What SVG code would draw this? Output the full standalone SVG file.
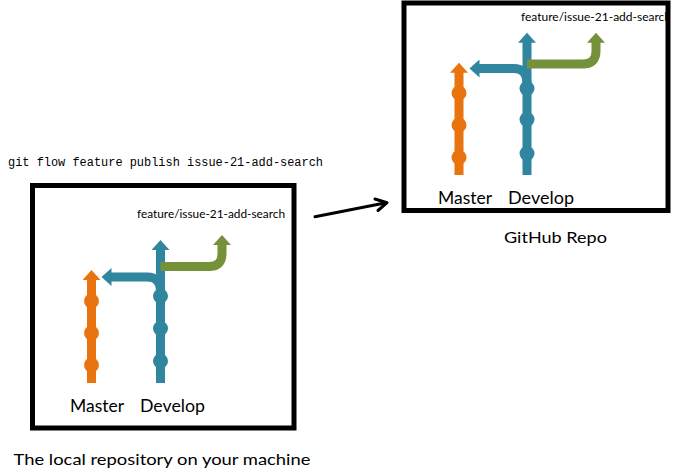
<svg xmlns="http://www.w3.org/2000/svg" width="680" height="474" viewBox="0 0 680 474">
<style>
.box{fill:none;stroke:#000;stroke-width:5}
.or{stroke:#E8730F;stroke-width:9;fill:none}
.bl{stroke:#2F869E;stroke-width:9;fill:none}
.gr{stroke:#75923B;stroke-width:9;fill:none}
.ord{fill:#E8730F}
.bld{fill:#2F869E}
.lbl{font-family:Lato,"Liberation Sans",sans-serif;font-size:17px;fill:#000}
.feat{font-family:Lato,"Liberation Sans",sans-serif;font-size:11px;fill:#000}
.cap{font-family:Lato,"Liberation Sans",sans-serif;font-size:16px;fill:#000}
.cmd{font-family:"Liberation Mono",monospace;font-size:12px;fill:#000}
</style>
<defs>
<marker id="hO" markerUnits="userSpaceOnUse" markerWidth="11" markerHeight="18" refX="1" refY="9" orient="auto" viewBox="0 0 11 18"><path d="M0,0 L10,9 L0,18 Z" fill="#E8730F"/></marker>
<marker id="hB" markerUnits="userSpaceOnUse" markerWidth="11" markerHeight="18" refX="1" refY="9" orient="auto" viewBox="0 0 11 18"><path d="M0,0 L10,9 L0,18 Z" fill="#2F869E"/></marker>
<marker id="hG" markerUnits="userSpaceOnUse" markerWidth="11" markerHeight="18" refX="1" refY="9" orient="auto" viewBox="0 0 11 18"><path d="M0,0 L10,9 L0,18 Z" fill="#75923B"/></marker>
<clipPath id="rclip"><rect x="404" y="3" width="264" height="207.5"/></clipPath>
</defs>
<rect width="680" height="474" fill="#fff"/>
<text class="cmd" x="8" y="165.5" textLength="315" lengthAdjust="spacingAndGlyphs">git flow feature publish issue-21-add-search</text>
<g id="local-repo">
<path class="or" d="M91.5,383 L91.5,279" marker-end="url(#hO)"/>
<path class="bl" d="M160.5,383 L160.5,249" marker-end="url(#hB)"/>
<path class="bl" d="M160.5,292 Q160.5,277 147,277 L110.5,277" marker-end="url(#hB)"/>
<path class="gr" d="M160.5,266.5 L209,266.5 Q222,266.5 222,253.5 L222,244" marker-end="url(#hG)"/>
<circle class="ord" cx="91.5" cy="301" r="7.5"/>
<circle class="ord" cx="91.5" cy="333" r="7.5"/>
<circle class="ord" cx="91.5" cy="365" r="7.5"/>
<circle class="bld" cx="160.5" cy="296" r="7.5"/>
<circle class="bld" cx="160.5" cy="328.5" r="7.5"/>
<circle class="bld" cx="160.5" cy="361" r="7.5"/>
<text class="feat" x="137" y="217.5" textLength="148" lengthAdjust="spacingAndGlyphs">feature/issue-21-add-search</text>
<text class="lbl" x="70" y="412" textLength="54" lengthAdjust="spacingAndGlyphs">Master</text>
<text class="lbl" x="140" y="412" textLength="65" lengthAdjust="spacingAndGlyphs">Develop</text>
<rect class="box" x="32.5" y="185.5" width="261.5" height="242.5"/>
<text class="cap" x="13.5" y="465" textLength="297" lengthAdjust="spacingAndGlyphs">The local repository on your machine</text>
</g>
<g id="remote-repo">
<path class="or" d="M459,175 L459,71.7" marker-end="url(#hO)"/>
<path class="bl" d="M527,175 L527,41.7" marker-end="url(#hB)"/>
<path class="bl" d="M527,84 Q527,68.5 513.5,68.5 L478.5,68.5" marker-end="url(#hB)"/>
<path class="gr" d="M527,64 L583,64 Q596,64 596,51 L596,41.7" marker-end="url(#hG)"/>
<circle class="ord" cx="459" cy="93" r="7.5"/>
<circle class="ord" cx="459" cy="125" r="7.5"/>
<circle class="ord" cx="459" cy="157.5" r="7.5"/>
<circle class="bld" cx="527" cy="88.5" r="7.5"/>
<circle class="bld" cx="527" cy="119.5" r="7.5"/>
<circle class="bld" cx="527" cy="153.5" r="7.5"/>
<g clip-path="url(#rclip)"><text class="feat" x="521" y="21" textLength="150" lengthAdjust="spacingAndGlyphs">feature/issue-21-add-search</text></g>
<text class="lbl" x="438" y="204" textLength="54" lengthAdjust="spacingAndGlyphs">Master</text>
<text class="lbl" x="508" y="204" textLength="66" lengthAdjust="spacingAndGlyphs">Develop</text>
<rect class="box" x="404" y="3" width="264" height="207.5"/>
<text class="cap" x="504" y="243" font-size="15" textLength="103" lengthAdjust="spacingAndGlyphs">GitHub Repo</text>
</g>
<g id="connectors">
<path d="M315,216.7 L386,202.8" stroke="#000" stroke-width="3" fill="none" stroke-linecap="round"/>
<path d="M375,199 L387,202.7 L378,210.5" stroke="#000" stroke-width="3" fill="none" stroke-linecap="round" stroke-linejoin="round"/>
</g>
</svg>
